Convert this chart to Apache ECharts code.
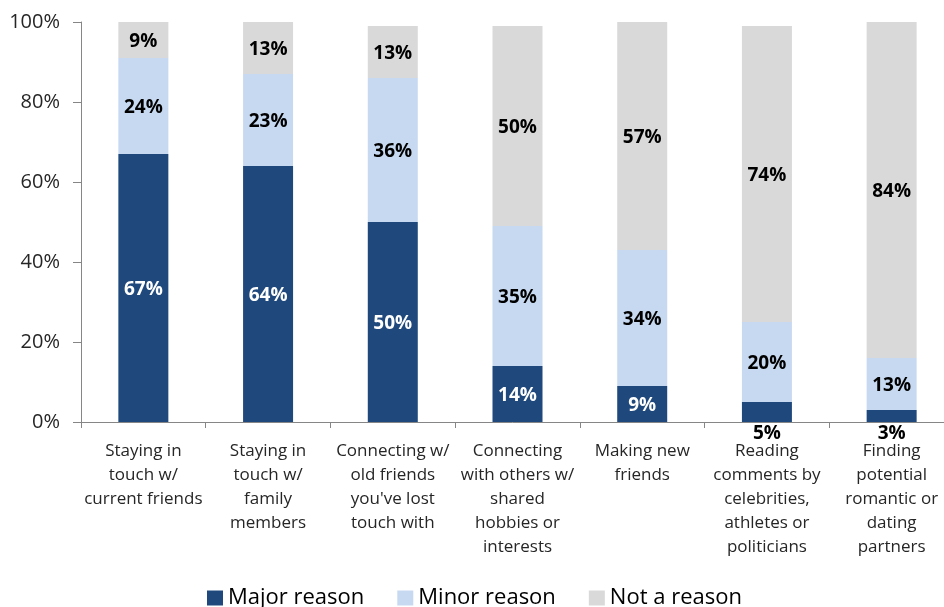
<!DOCTYPE html>
<html>
<head>
<meta charset="utf-8">
<script src="https://cdn.jsdelivr.net/npm/echarts@6/dist/echarts.min.js"></script>
<style>
  html, body { margin: 0; padding: 0; background: #fff; }
  #chart { width: 944px; height: 607px; }
</style>
</head>
<body>
<div id="chart"></div>
<script>
// Reasons for using social media, share of respondents
const categories = [
  'Staying in\ntouch w/\ncurrent friends',
  'Staying in\ntouch w/\nfamily\nmembers',
  'Connecting w/\nold friends\nyou\'ve lost\ntouch with',
  'Connecting\nwith others w/\nshared\nhobbies or\ninterests',
  'Making new\nfriends',
  'Reading\ncomments by\ncelebrities,\nathletes or\npoliticians',
  'Finding\npotential\nromantic or\ndating\npartners'
];
const majorReason = [67, 64, 50, 14, 9, 5, 3];
const minorReason = [24, 23, 36, 35, 34, 20, 13];
const notAReason = [9, 13, 13, 50, 57, 74, 84];
const yTicks = [0, 20, 40, 60, 80, 100];

const FONT = '"Open Sans", "DejaVu Sans", sans-serif';
const labelFmt = p => p.value + '%';

// Small dark segments get their label placed below the bar
const majorData = majorReason.map(v => v < 8
  ? { value: v, label: { position: 'bottom', distance: 2, offset: [0, 0], color: '#000' } }
  : v);

const segLabel = color => ({
  show: true,
  position: 'inside',
  offset: [0, 2],
  formatter: labelFmt,
  color: color,
  fontWeight: 'bold',
  fontSize: 19,
  fontFamily: FONT
});

const chart = echarts.init(document.getElementById('chart'));
chart.setOption({
  animation: false,
  textStyle: { fontFamily: FONT },
  // plot runs past the right edge of the canvas, last category is clipped
  grid: {
    left: 81, top: 22, width: 873, bottom: 185,
    containLabel: false,
    outerBoundsMode: 'none'
  },
  legend: {
    data: ['Major reason', 'Minor reason', 'Not a reason'],
    left: 202,
    top: 582,
    icon: 'rect',
    itemWidth: 16,
    itemHeight: 15,
    itemGap: 33,
    textStyle: { fontFamily: FONT, fontSize: 22, color: '#000' }
  },
  xAxis: {
    type: 'category',
    data: categories,
    axisLine: { lineStyle: { color: '#868686', width: 1 } },
    axisTick: { show: true, length: 6, lineStyle: { color: '#868686' } },
    axisLabel: {
      interval: 0,
      margin: 17,
      fontFamily: FONT,
      fontSize: 17,
      lineHeight: 24,
      color: '#262626',
      align: 'center'
    }
  },
  yAxis: {
    type: 'value',
    min: 0,
    max: 100,
    interval: 20,
    axisLine: { show: true, lineStyle: { color: '#868686' } },
    axisTick: { show: true, length: 8, lineStyle: { color: '#868686' } },
    splitLine: { show: false },
    axisLabel: {
      margin: 21,
      fontFamily: FONT,
      fontSize: 20,
      color: '#262626',
      formatter: v => yTicks.includes(v) ? v + '%' : ''
    }
  },
  series: [
    {
      name: 'Major reason',
      type: 'bar',
      stack: 'total',
      barWidth: 50,
      data: majorData,
      itemStyle: { color: '#1F497D' },
      label: segLabel('#fff')
    },
    {
      name: 'Minor reason',
      type: 'bar',
      stack: 'total',
      barWidth: 50,
      data: minorReason,
      itemStyle: { color: '#C6D9F1' },
      label: segLabel('#000')
    },
    {
      name: 'Not a reason',
      type: 'bar',
      stack: 'total',
      barWidth: 50,
      data: notAReason,
      itemStyle: { color: '#D9D9D9' },
      label: segLabel('#000')
    }
  ]
});
</script>
</body>
</html>
